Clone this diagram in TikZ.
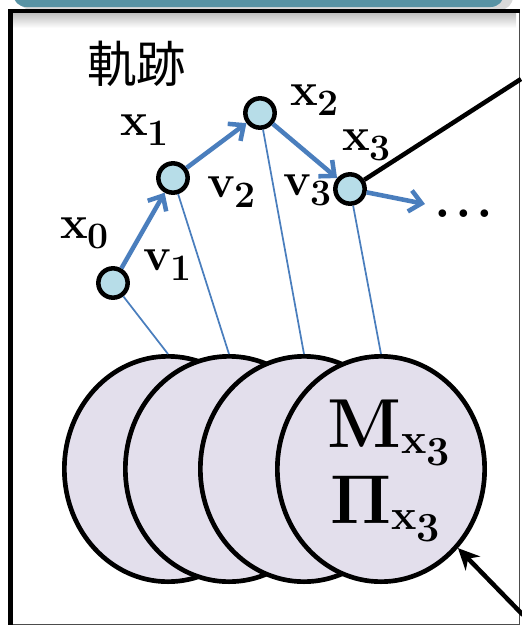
\RequirePackage{fix-cm}
\documentclass[tikz,border=0pt]{standalone}
\usepackage[no-math]{fontspec}
\newfontfamily\jpfont{Noto Sans CJK JP}
\usetikzlibrary{arrows.meta,shapes.geometric}

\definecolor{barteal}{HTML}{5893A4}
\definecolor{trajblue}{HTML}{4A7EBD}
\definecolor{pointfill}{HTML}{B7DDE8}
\definecolor{diskfill}{HTML}{E3DFEC}

% bold label with a lowered index
\newcommand{\lab}[2]{\fontsize{35}{36}\selectfont\bfseries #1\raisebox{-8pt}{\fontsize{28}{29}\selectfont #2}}
\newcommand{\bigsym}[1]{\fontsize{52}{54}\selectfont\bfseries #1\raisebox{-4.5pt}{\fontsize{32}{33}\selectfont x\raisebox{-9pt}{\fontsize{31}{32}\selectfont 3}}}

\tikzset{
  point/.style={circle, draw=black, fill=pointfill, line width=3.4pt,
    minimum size=22pt, inner sep=0pt},
  disk/.style={ellipse, draw=black, fill=diskfill, line width=3.5pt,
    minimum width=155.5pt, minimum height=169pt, inner sep=0pt},
  lbl/.style={anchor=base west, inner sep=0pt},
  move/.style={trajblue, line width=3.4pt,
    -{Straight Barb[length=9pt,width=16pt]}},
  link/.style={trajblue, line width=1.3pt},
}

\begin{document}
\begin{tikzpicture}[x=0.75pt,y=-0.75pt]
\useasboundingbox (0,0) rectangle (522,626);

% Frame
\fill[black!15, rounded corners=10pt] (18,-20) rectangle (513,10);
\fill[barteal, rounded corners=10pt] (13,-20) rectangle (504,7);
\shade[top color=black!25, bottom color=white] (13,13) rectangle (516,28);
\draw[black!70, line width=1.2pt] (519.5,11) -- (519.5,624.5) -- (10,624.5);
\draw[line width=3.5pt] (10.5,624.5) -- (10.5,11) -- (519.5,11);

\node (title) at (137,64) {\jpfont\fontsize{37}{40}\selectfont 軌跡};

% Disks
\foreach \n/\x in {d0/168,d1/229,d2/304,d3/381}
{
\node[disk] (\n) at (\x,469) {};
}

\node[lbl] (m3) at (327,447) {\bigsym{M}};
\node[lbl] (p3) at (330,523) {\bigsym{$\mathbf{\Pi}$}};

% Trajectory
\foreach \n/\x/\y in {x0/113/283,x1/173/178,x2/260/113,x3/350/189}
{
\node[point] (\n) at (\x,\y) {};
}

\foreach \i in {0,...,3}
{
\draw[link] (x\i) -- (d\i.north);
}

\coordinate (next) at (425,204);
\draw[move] (x0) -- (x1);
\draw[move] (x1) -- (x2);
\draw[move] (x2) -- (x3);
\draw[move] (x3) -- (next);

\node[lbl] (dots) at (434,217)
{\fontsize{40}{42}\selectfont\bfseries .\kern3.5pt.\kern3.5pt.};

\node[lbl] (lx0) at (60,238) {\lab{x}{0}};
\node[lbl] (lv1) at (143,270) {\lab{v}{1}};
\node[lbl] (lx1) at (120,135) {\lab{x}{1}};
\node[lbl] (lv2) at (207,197) {\lab{v}{2}};
\node[lbl] (lx2) at (290,105) {\lab{x}{2}};
\node[lbl] (lv3) at (283,195) {\lab{v}{3}};
\node[lbl] (lx3) at (342,150) {\lab{x}{3}};

% Links out of the frame
\coordinate (up) at (521,79);
\coordinate (low) at (523,615);
\draw[line width=3.4pt] (x3) -- (up);
\draw[line width=3.4pt, -{Stealth[length=16pt,width=15pt,inset=5pt]}] (low) -- (d3);

\end{tikzpicture}
\end{document}
